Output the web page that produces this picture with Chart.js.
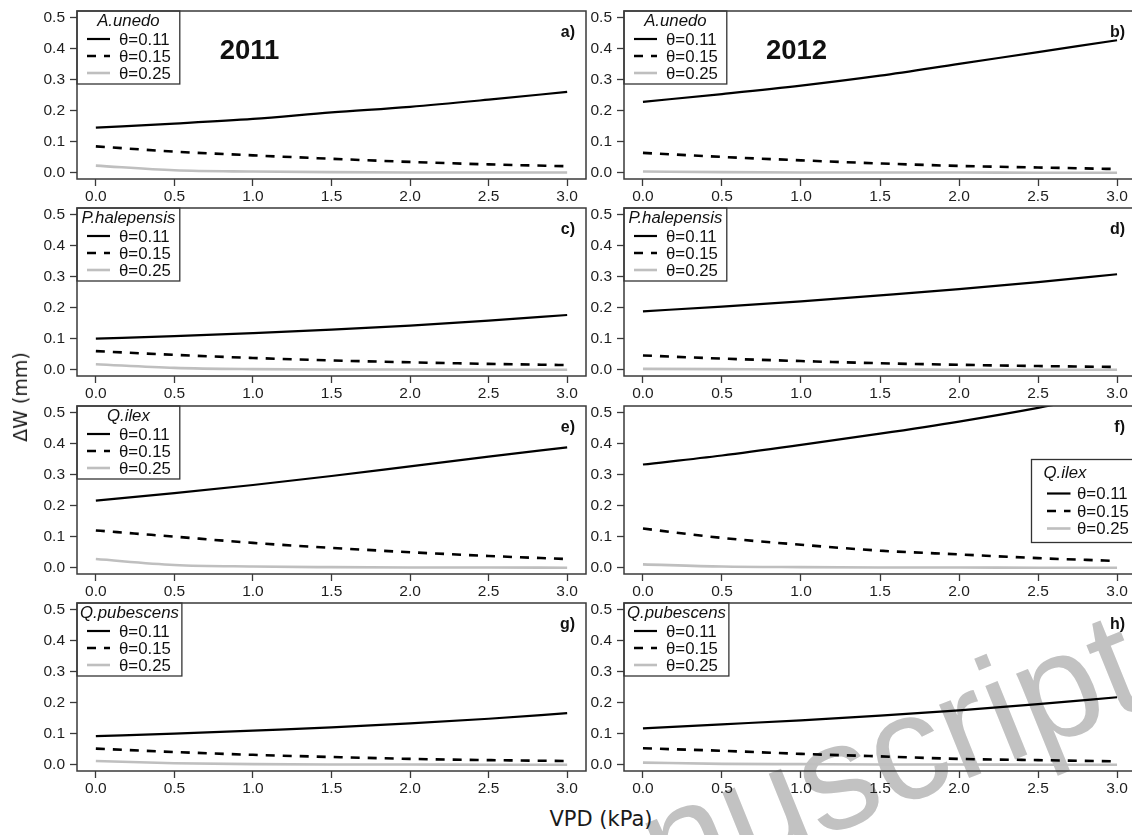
<!DOCTYPE html>
<html>
<head>
<meta charset="utf-8">
<script src="https://cdn.jsdelivr.net/npm/chart.js@4.4.1/dist/chart.umd.min.js"></script>
<style>
  html, body { margin: 0; padding: 0; background: #fff; }
  body { position: relative; width: 1132px; height: 835px; overflow: hidden; }
  canvas { position: absolute; z-index: 2; }
  .axis-title { position: absolute; z-index: 3; font-family: "DejaVu Sans", sans-serif; font-size: 21px; color: #1a1a1a; white-space: nowrap; }
  .stamp { position: absolute; z-index: 1; font-family: "Liberation Sans", Arial, sans-serif; font-size: 150px; line-height: 150px; color: #c2c2c2; white-space: nowrap; transform-origin: 0 0; transform: rotate(-22deg); }
</style>
</head>
<body>
<div class="stamp" style="left:425px; top:861px;">Manuscript</div>
<div class="axis-title" style="left:601px; top:819px; transform: translate(-50%, -50%);">VPD (kPa)</div>
<div class="axis-title" style="left:20px; top:397px; font-size:19px; transform: translate(-50%, -50%) rotate(-90deg);">ΔW (mm)</div>

<script>
// VPD values (kPa) at which the curves are given
const vpd = [0, 0.5, 1.0, 1.5, 2.0, 2.5, 3.0];
const xTicks = [0, 0.5, 1.0, 1.5, 2.0, 2.5, 3.0];
const yTicks = [0, 0.1, 0.2, 0.3, 0.4, 0.5];
const thetaLabels = ['θ=0.11', 'θ=0.15', 'θ=0.25'];
const speciesNames = ['A.unedo', 'P.halepensis', 'Q.ilex', 'Q.pubescens'];
const years = ['2011', '2012'];
const panelTags = ['a)', 'b)', 'c)', 'd)', 'e)', 'f)', 'g)', 'h)'];

// ΔW (mm) — Arbutus unedo
const au11_011 = [0.145, 0.158, 0.173, 0.194, 0.212, 0.235, 0.260];
const au11_015 = [0.085, 0.068, 0.056, 0.045, 0.035, 0.027, 0.021];
const au11_025 = [0.023, 0.008, 0.004, 0.002, 0.001, 0.001, 0.001];
const au12_011 = [0.228, 0.253, 0.280, 0.312, 0.350, 0.388, 0.426];
const au12_015 = [0.064, 0.051, 0.040, 0.030, 0.022, 0.017, 0.012];
const au12_025 = [0.004, 0.002, 0.001, 0.001, 0.001, 0.000, 0.000];

// ΔW (mm) — Pinus halepensis
const ph11_011 = [0.100, 0.108, 0.118, 0.129, 0.142, 0.158, 0.176];
const ph11_015 = [0.060, 0.048, 0.038, 0.030, 0.024, 0.019, 0.015];
const ph11_025 = [0.018, 0.006, 0.002, 0.001, 0.001, 0.000, 0.000];
const ph12_011 = [0.188, 0.203, 0.220, 0.239, 0.259, 0.282, 0.307];
const ph12_015 = [0.046, 0.036, 0.028, 0.021, 0.016, 0.012, 0.009];
const ph12_025 = [0.003, 0.002, 0.001, 0.001, 0.000, 0.000, 0.000];

// ΔW (mm) — Quercus ilex
const qi11_011 = [0.216, 0.240, 0.266, 0.295, 0.326, 0.357, 0.387];
const qi11_015 = [0.120, 0.100, 0.080, 0.064, 0.050, 0.038, 0.028];
const qi11_025 = [0.028, 0.009, 0.004, 0.002, 0.001, 0.001, 0.000];
const qi12_011 = [0.332, 0.361, 0.395, 0.431, 0.470, 0.514, 0.565];
const qi12_015 = [0.126, 0.096, 0.074, 0.055, 0.043, 0.031, 0.022];
const qi12_025 = [0.011, 0.004, 0.002, 0.001, 0.001, 0.000, 0.000];

// ΔW (mm) — Quercus pubescens
const qp11_011 = [0.092, 0.100, 0.110, 0.120, 0.133, 0.148, 0.166];
const qp11_015 = [0.052, 0.041, 0.032, 0.025, 0.019, 0.015, 0.012];
const qp11_025 = [0.012, 0.005, 0.002, 0.001, 0.001, 0.000, 0.000];
const qp12_011 = [0.117, 0.130, 0.143, 0.158, 0.175, 0.195, 0.217];
const qp12_015 = [0.053, 0.045, 0.035, 0.027, 0.019, 0.015, 0.011];
const qp12_025 = [0.007, 0.003, 0.002, 0.001, 0.001, 0.000, 0.000];

const seriesByPanel = [
  [au11_011, au11_015, au11_025], [au12_011, au12_015, au12_025],
  [ph11_011, ph11_015, ph11_025], [ph12_011, ph12_015, ph12_025],
  [qi11_011, qi11_015, qi11_025], [qi12_011, qi12_015, qi12_025],
  [qp11_011, qp11_015, qp11_025], [qp12_011, qp12_015, qp12_025]
];

// line styles for the three soil-moisture levels
const lineStyles = [
  { color: '#000000', width: 2.2, dash: [] },
  { color: '#000000', width: 2.6, dash: [9, 8] },
  { color: '#bfbfbf', width: 2.6, dash: [] }
];

// page geometry of the 4 x 2 grid of panels
const colGeom = [
  { left: 0,   width: 588, axisW: 77 },
  { left: 588, width: 550, axisW: 36 }
];
const rowBoxTop = [11, 208, 406, 603];
const BOX_H = 168, PAD_TOP = 6, XAXIS_H = 26;

const TICK_FONT = { family: '"Liberation Sans", Arial, sans-serif', size: 15.5 };
const LEG_SIZE = 16.8;

// frame, panel tag, year title and legend drawn on top of each panel
const panelDecor = {
  id: 'panelDecor',
  afterDatasetsDraw(chart, args, o) {
    const { ctx, chartArea: ca } = chart;
    ctx.save();
    // legend
    const ds = chart.data.datasets;
    ctx.font = `italic ${LEG_SIZE}px "Liberation Sans", Arial, sans-serif`;
    const titleW = ctx.measureText(o.legendTitle).width;
    ctx.font = `${LEG_SIZE}px "Liberation Sans", Arial, sans-serif`;
    const textW = Math.max(...ds.map(d => ctx.measureText(d.label).width));
    let L;
    if (o.legendPos === 'right') {
      const x0 = ca.right - 104.5, y0 = ca.top + 53.5;
      L = { x0, y0, w: 140, h: 83, titleX: x0 + 12, titleAlign: 'left', titleY: y0 + 14,
            rows: [y0 + 34, y0 + 51.5, y0 + 69], s0: x0 + 15.5, s1: x0 + 39, tx: x0 + 45.5 };
    } else {
      const x0 = ca.left, y0 = ca.top;
      const w = Math.max(titleW + 6, 42 + textW + 9);
      L = { x0, y0, w, h: 73, titleX: x0 + w / 2, titleAlign: 'center', titleY: y0 + 10,
            rows: [y0 + 28, y0 + 45, y0 + 62], s0: x0 + 10, s1: x0 + 33, tx: x0 + 42 };
    }
    ctx.fillStyle = '#ffffff';
    ctx.fillRect(L.x0, L.y0, L.w, L.h);
    ctx.strokeStyle = '#333333';
    ctx.lineWidth = 1.3;
    ctx.strokeRect(L.x0, L.y0, L.w, L.h);
    ctx.fillStyle = '#111111';
    ctx.textBaseline = 'middle';
    ctx.font = `italic ${LEG_SIZE}px "Liberation Sans", Arial, sans-serif`;
    ctx.textAlign = L.titleAlign;
    ctx.fillText(o.legendTitle, L.titleX, L.titleY);
    ctx.font = `${LEG_SIZE}px "Liberation Sans", Arial, sans-serif`;
    ctx.textAlign = 'left';
    ds.forEach((d, i) => {
      const y = L.rows[i];
      ctx.beginPath();
      ctx.setLineDash(d.borderDash || []);
      ctx.strokeStyle = d.borderColor;
      ctx.lineWidth = d.borderWidth;
      ctx.moveTo(L.s0, y);
      ctx.lineTo(L.s1, y);
      ctx.stroke();
      ctx.setLineDash([]);
      ctx.fillText(d.label, L.tx, y + 1);
    });
    // plot frame
    ctx.strokeStyle = '#3a3a3a';
    ctx.lineWidth = 1.5;
    ctx.strokeRect(ca.left, ca.top, ca.right - ca.left, ca.bottom - ca.top);
    // panel tag
    ctx.fillStyle = '#111111';
    ctx.font = 'bold 16px "Liberation Sans", Arial, sans-serif';
    ctx.textAlign = 'right';
    ctx.fillText(o.tag, ca.right - 11, ca.top + 22);
    // year title
    if (o.year) {
      ctx.font = 'bold 27.5px "Liberation Sans", Arial, sans-serif';
      ctx.textAlign = 'center';
      ctx.fillText(o.year, ca.left + 172.5, ca.top + 40);
    }
    ctx.restore();
  }
};

for (let p = 0; p < 8; p++) {
  const row = Math.floor(p / 2), col = p % 2;
  const g = colGeom[col];
  const cv = document.createElement('canvas');
  const h = PAD_TOP + BOX_H + XAXIS_H;
  cv.width = g.width; cv.height = h;
  cv.style.left = g.left + 'px';
  cv.style.top = (rowBoxTop[row] - PAD_TOP) + 'px';
  cv.style.width = g.width + 'px'; cv.style.height = h + 'px';
  document.body.appendChild(cv);

  // dataset 0 (θ=0.11, solid) is drawn last, so it sits on top
  const datasets = seriesByPanel[p].map((vals, i) => ({
    label: thetaLabels[i],
    data: vpd.map((x, k) => ({ x, y: vals[k] })),
    borderColor: lineStyles[i].color,
    borderWidth: lineStyles[i].width,
    borderDash: lineStyles[i].dash,
    borderCapStyle: 'butt',
    pointRadius: 0,
    fill: false,
    cubicInterpolationMode: 'monotone'
  }));

  new Chart(cv, {
    type: 'line',
    data: { datasets },
    options: {
      responsive: false,
      animation: false,
      devicePixelRatio: 1,
      layout: { padding: { left: 0, right: 2, top: PAD_TOP, bottom: 0 } },
      plugins: {
        legend: { display: false },
        tooltip: { enabled: false },
        panelDecor: {
          tag: panelTags[p],
          year: row === 0 ? years[col] : '',
          legendTitle: speciesNames[row],
          legendPos: p === 5 ? 'right' : 'topleft'
        }
      },
      scales: {
        x: {
          type: 'linear', min: -0.12, max: 3.12,
          afterBuildTicks: s => { s.ticks = xTicks.map(v => ({ value: v })); },
          afterFit: s => { s.height = XAXIS_H; s.paddingLeft = 0; s.paddingRight = 0; },
          ticks: { font: TICK_FONT, color: '#1e1e1e', padding: 1, maxRotation: 0, autoSkip: false,
                   callback: v => Number(v).toFixed(1) },
          grid: { drawOnChartArea: false, drawTicks: true, tickLength: 7, tickColor: '#3a3a3a', tickWidth: 1.3 },
          border: { display: false }
        },
        y: {
          type: 'linear', min: -0.02, max: 0.52,
          afterBuildTicks: s => { s.ticks = yTicks.map(v => ({ value: v })); },
          afterFit: s => { s.width = g.axisW; s.paddingTop = 0; s.paddingBottom = 0; },
          ticks: { font: TICK_FONT, color: '#1e1e1e', padding: 5, autoSkip: false,
                   callback: v => Number(v).toFixed(1) },
          grid: { drawOnChartArea: false, drawTicks: true, tickLength: 7, tickColor: '#3a3a3a', tickWidth: 1.3 },
          border: { display: false }
        }
      }
    },
    plugins: [panelDecor]
  });
}
</script>
</body>
</html>
